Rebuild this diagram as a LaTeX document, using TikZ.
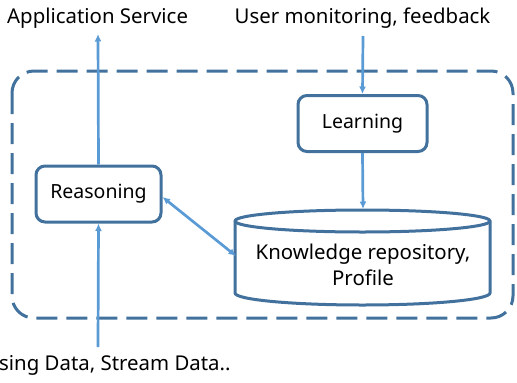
\documentclass[tikz,border=0pt]{standalone}
\usepackage{fontspec}
\setmainfont{Noto Sans}
\usetikzlibrary{arrows.meta}
\definecolor{edgeblue}{HTML}{41719C}
\definecolor{flowblue}{HTML}{5B9BD5}
\tikzset{
  procbox/.style={draw=edgeblue, line width=3pt, rounded corners=9pt, fill=white,
    minimum width=125pt, minimum height=56pt, inner sep=0pt},
  flow/.style={draw=flowblue, line width=2.7pt, -{Latex[length=7.5pt,width=7pt]}},
  label/.style={inner sep=0pt, font=\fontsize{20.4pt}{24pt}\selectfont},
  frame/.style={draw=edgeblue, line width=3pt, dash pattern=on 21pt off 9pt, rounded corners=22pt}
}
\begin{document}
\begin{tikzpicture}[x=1pt, y=-1pt]
\useasboundingbox (0,0) rectangle (517,383);
% system boundary
\draw[frame] (12,71) rectangle (513,318);
% processing blocks
\node[procbox] (reason) at (98.5,194) {\fontsize{19.5pt}{23pt}\selectfont Reasoning};
\node[procbox, minimum width=129pt] (learn) at (362.5,123.5) {\fontsize{19.5pt}{23pt}\selectfont Learning};
% knowledge store drawn as a cylinder (y axis points down here)
\draw[draw=edgeblue, line width=3pt, fill=white]
  (235,221) -- (235,293) arc[start angle=180, end angle=0, x radius=127.5, y radius=12]
  -- (490,221) arc[start angle=0, end angle=-180, x radius=127.5, y radius=11] -- cycle;
\draw[draw=edgeblue, line width=3pt]
  (235,221) arc[start angle=180, end angle=0, x radius=127.5, y radius=11];
\node[label, align=center] (kb) at (363,265) {Knowledge repository,\\[2pt]Profile};
\coordinate (kbtop) at (363,209);
\coordinate (kbleft) at (236,256);
% external texts
\node[label, anchor=west] (app) at (7,18) {Application Service};
\node[label] (user) at (362.5,18) {User monitoring, feedback};
\node[label, anchor=west] (sense) at (-1,365) {sing Data, Stream Data..};
\coordinate (append) at (98,34);
\coordinate (userstart) at (363,36);
\coordinate (sensestart) at (98,347);
% connectors
\draw[flow] (reason.north) -- (append);
\draw[flow] (userstart) -- (learn.north);
\draw[flow] (learn.south) -- (kbtop);
\draw[flow] (sensestart) -- (reason.south);
\draw[flow, {Latex[length=7.5pt,width=7pt]}-{Latex[length=7.5pt,width=7pt]}] (reason.east |- 0,197) -- (kbleft);
\end{tikzpicture}
\end{document}
